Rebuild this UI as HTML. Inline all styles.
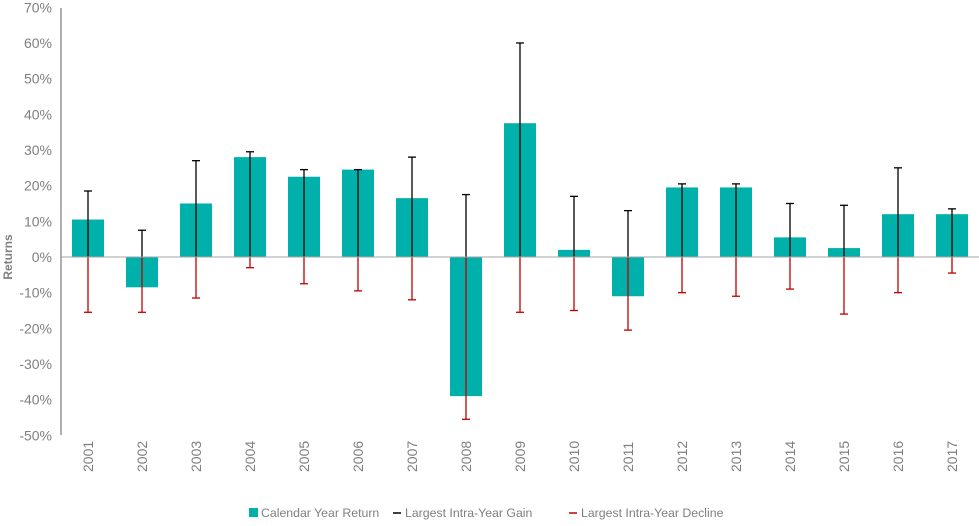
<!DOCTYPE html><html><head><style>body{margin:0;background:#fff}svg{display:block}text{font-family:"Liberation Sans",sans-serif;fill:#7f7f7f}</style></head><body>
<svg width="979" height="526" xmlns="http://www.w3.org/2000/svg" id="s"></svg>
<script>
const d=[[10.5,18.5,-15.5],[-8.5,7.5,-15.5],[15,27,-11.5],[28,29.5,-3],[22.5,24.5,-7.5],[24.5,24.5,-9.5],[16.5,28,-12],[-39,17.5,-45.5],[37.5,60,-15.5],[2,17,-15],[-11,13,-20.5],[19.5,20.5,-10],[19.5,20.5,-11],[5.5,15,-9],[2.5,14.5,-16],[12,25,-10],[12,13.5,-4.5]];
const Y=v=>257-v*3.567;let h='';
for(let v=70;v>=-50;v-=10)h+=`<text x="52" y="${Y(v)+5}" font-size="14" text-anchor="end">${v}%</text>`;
h+=`<text transform="translate(12,257) rotate(-90)" font-size="12" font-weight="bold" text-anchor="middle">Returns</text>`;
d.forEach((r,i)=>{const c=88+i*54;const t=Y(Math.max(r[0],0)),b=Y(Math.min(r[0],0));
h+=`<rect x="${c-16}" y="${t}" width="32" height="${b-t}" fill="#00b0aa"/>`;
h+=`<line x1="${c}" y1="${Y(0)}" x2="${c}" y2="${Y(r[1])}" stroke="#000" stroke-width="1.3"/><line x1="${c-4}" x2="${c+4}" y1="${Y(r[1])}" y2="${Y(r[1])}" stroke="#000" stroke-width="1.3"/>`;
h+=`<line x1="${c}" y1="${Y(0)}" x2="${c}" y2="${Y(r[2])}" stroke="#c00000" stroke-width="1.3"/><line x1="${c-4}" x2="${c+4}" y1="${Y(r[2])}" y2="${Y(r[2])}" stroke="#c00000" stroke-width="1.3"/>`;
h+=`<text transform="translate(${c+5},472) rotate(-90)" font-size="14">${2001+i}</text>`;});
h+=`<line x1="61" y1="257" x2="979" y2="257" stroke="#a6a6a6"/><line x1="61" y1="8" x2="61" y2="435" stroke="#868686" stroke-width="1.3"/>`;
h+=`<rect x="249" y="508" width="9" height="9" fill="#00b0aa"/><text x="261" y="517" font-size="12.3">Calendar Year Return</text>`;
h+=`<line x1="393" x2="401" y1="513" y2="513" stroke="#000" stroke-width="1.5"/><text x="405" y="517" font-size="12.3">Largest Intra-Year Gain</text>`;
h+=`<line x1="569" x2="577" y1="513" y2="513" stroke="#c00000" stroke-width="1.5"/><text x="581" y="517" font-size="12.3">Largest Intra-Year Decline</text>`;
document.getElementById('s').innerHTML=h;
</script></body></html>
